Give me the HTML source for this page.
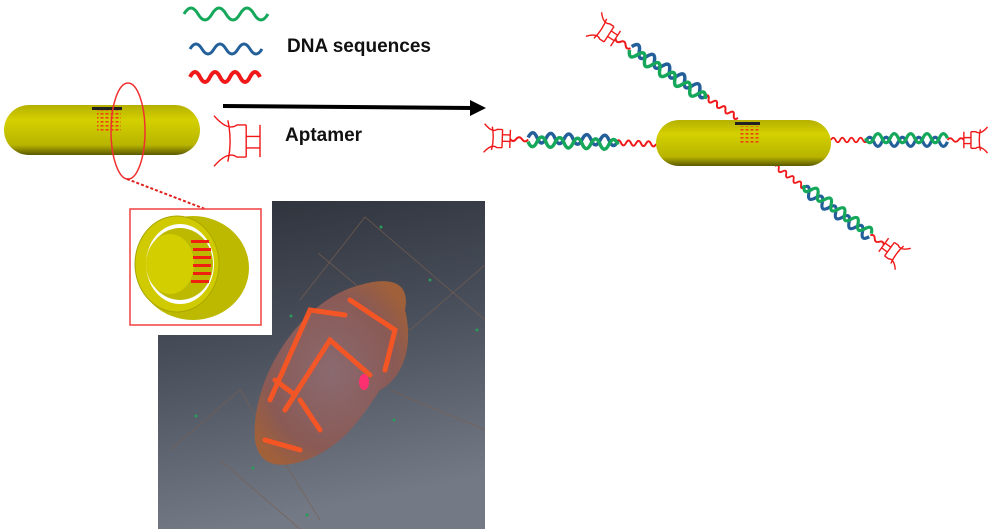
<!DOCTYPE html>
<html><head><meta charset="utf-8"><style>
html,body{margin:0;padding:0;background:#fff;width:1000px;height:529px;overflow:hidden}
</style></head><body>
<svg width="1000" height="529" viewBox="0 0 1000 529" xmlns="http://www.w3.org/2000/svg">
<defs>
<linearGradient id="cap" x1="0" y1="0" x2="0" y2="1">
<stop offset="0" stop-color="#b5b000"/><stop offset="0.3" stop-color="#d4d000"/><stop offset="0.8" stop-color="#b8b400"/><stop offset="1" stop-color="#5a5800"/>
</linearGradient>
<linearGradient id="dark" x1="0" y1="0" x2="0.2" y2="1">
<stop offset="0" stop-color="#2c3039"/><stop offset="0.5" stop-color="#4a505c"/><stop offset="1" stop-color="#737985"/>
</linearGradient>
<radialGradient id="blob" cx="0.5" cy="0.5" r="0.6">
<stop offset="0" stop-color="#8a6a70"/><stop offset="0.7" stop-color="#8a5a55"/><stop offset="1" stop-color="#a0603a"/>
</radialGradient>
<pattern id="dots" width="5" height="4" patternUnits="userSpaceOnUse">
<rect x="0.5" y="1" width="3" height="1.6" fill="#f04010"/>
</pattern>
<g id="apt" fill="none" stroke="#f01818" stroke-width="1.4">
<path vector-effect="non-scaling-stroke" d="M0,-7 L0,7 M6,-7 L6,7 M0,-2 L6,-2 M0,3 L6,3"/>
<path vector-effect="non-scaling-stroke" d="M6,-7 L10,-7 Q14,-4 20,-11 M6,7 L10,7 Q14,4 20,11 M14,-9 Q12,0 14,9"/>
</g>
<g id="arm">
<path d="M0,0 q2.5,-5 5,0 t5,0 t5,0 t5,0 t5,0 t5,0 t5,0 t5,0" stroke="#f01818" stroke-width="2" fill="none"/>
<path d="M38,2 q4.5,-10 9,0 t9,0 t9,0 t9,0 t9,0 t9,0 t9,0 t9,0 t9,0 t9,0" stroke="#23609a" stroke-width="3.5" fill="none"/>
<path d="M38,-2 q4.5,10 9,0 t9,0 t9,0 t9,0 t9,0 t9,0 t9,0 t9,0 t9,0 t9,0" stroke="#16a85a" stroke-width="3.5" fill="none"/>
<path d="M128,0 q3,-4 6,0 t6,0 t6,0" stroke="#f01818" stroke-width="2" fill="none"/>
<g transform="translate(146,0) scale(1.3)"><use href="#apt"/></g>
</g>
</defs>

<path d="M184,14 q7,-12 14,0 t14,0 t14,0 t14,0 t14,0 t14,0" stroke="#16a85a" stroke-width="3" fill="none"/>
<path d="M190,49 q6,-10 12,0 t12,0 t12,0 t12,0 t12,0 t12,0" stroke="#23609a" stroke-width="3" fill="none"/>
<path d="M190,77 q5,-10 10,0 t10,0 t10,0 t10,0 t10,0 t10,0 t10,0" stroke="#f01818" stroke-width="4" fill="none"/>
<text x="287" y="52" font-family="Liberation Sans, sans-serif" font-weight="bold" font-size="19" fill="#111">DNA sequences</text>
<text x="285" y="141" font-family="Liberation Sans, sans-serif" font-weight="bold" font-size="19" fill="#111">Aptamer</text>

<line x1="223" y1="106" x2="472" y2="108" stroke="#000" stroke-width="4"/>
<polygon points="470,100 486,108 470,116" fill="#000"/>

<g transform="translate(260,141) scale(-2.3,2.3)"><use href="#apt"/></g>

<rect x="4" y="105" width="196" height="50" rx="25" fill="url(#cap)"/>
<rect x="92" y="107" width="30" height="3" fill="#222"/>
<rect x="97" y="110" width="24" height="22" fill="url(#dots)"/>
<ellipse cx="128" cy="131" rx="17" ry="48" fill="none" stroke="#f03030" stroke-width="1.5"/>
<line x1="127" y1="179" x2="205" y2="209" stroke="#e02020" stroke-width="2" stroke-dasharray="3,2"/>

<path d="M272,201 H485 V529 H158 V335 H272 Z" fill="url(#dark)"/>
<g stroke="#7a6050" stroke-width="0.8" fill="none" opacity="0.8">
<path d="M300,300 L365,217 L485,320"/>
<path d="M318,253 L410,330 L485,265"/>
<path d="M170,450 L240,390 L320,520"/>
<path d="M390,390 L485,430"/>
<path d="M220,460 L300,529"/>
</g>
<path d="M255,440 C250,380 300,300 360,285 C395,275 410,285 405,310 C415,350 400,380 380,390 C360,420 340,450 300,462 C270,470 258,460 255,440 Z" fill="url(#blob)"/>
<g stroke="#ff5520" stroke-width="5" fill="none" stroke-linecap="round" opacity="0.9">
<path d="M270,400 L310,310 L345,315"/>
<path d="M285,410 L330,340 L370,375"/>
<path d="M350,300 L395,330 L385,370"/>
<path d="M265,440 L300,450"/>
<path d="M300,400 L320,430"/>
<path d="M275,380 L295,395"/>
</g>
<ellipse cx="364" cy="382" rx="5" ry="8" fill="#ff3070"/>
<g fill="#2a9a5a"><circle cx="381" cy="227" r="1.5"/><circle cx="430" cy="280" r="1.5"/><circle cx="291" cy="316" r="1.5"/><circle cx="196" cy="416" r="1.5"/><circle cx="394" cy="420" r="1.5"/><circle cx="253" cy="468" r="1.5"/><circle cx="307" cy="515" r="1.5"/><circle cx="477" cy="330" r="1.5"/></g>

<rect x="130" y="209" width="131" height="116" fill="#fff" stroke="#f04040" stroke-width="1.5"/>
<ellipse cx="193" cy="268" rx="56" ry="52" fill="#bdb900"/>
<ellipse cx="177" cy="264" rx="42" ry="48" fill="#cfcb00" stroke="#aaa600"/>
<ellipse cx="180" cy="264" rx="34" ry="40" fill="#fff"/>
<ellipse cx="180" cy="264" rx="33" ry="36" fill="#bdb900"/>
<ellipse cx="170" cy="264" rx="24" ry="30" fill="#d2ce00"/>
<g fill="#f02010"><rect x="191" y="240" width="18" height="3"/><rect x="193" y="248" width="18" height="3"/><rect x="193" y="256" width="18" height="3"/><rect x="193" y="264" width="18" height="3"/><rect x="193" y="272" width="18" height="3"/><rect x="191" y="280" width="18" height="3"/></g>

<g transform="translate(656,144) rotate(182)"><use href="#arm"/></g>
<g transform="translate(831,140) scale(0.91)"><use href="#arm"/></g>
<g transform="translate(738,118) rotate(213)"><use href="#arm"/></g>
<g transform="translate(775,166) rotate(36) scale(0.92)"><use href="#arm"/></g>

<rect x="656" y="120" width="175" height="46" rx="23" fill="url(#cap)"/>
<rect x="735" y="122" width="25" height="3" fill="#222"/>
<rect x="740" y="126" width="20" height="18" fill="url(#dots)"/>
</svg>
</body></html>
